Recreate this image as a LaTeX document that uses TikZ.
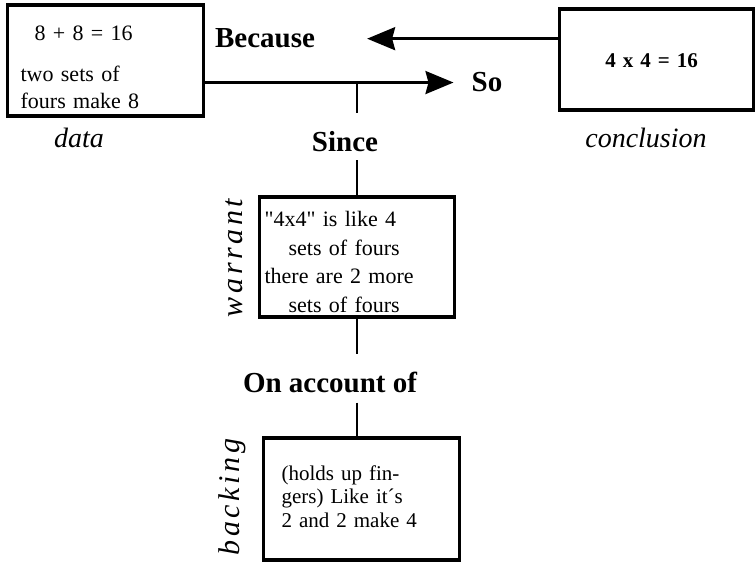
\documentclass[tikz,border=0pt]{standalone}
\usepackage{fontspec}
\setmainfont{Liberation Serif}
\newfontfamily\boxfont{Liberation Serif}
\newfontfamily\spacedfont[LetterSpace=12]{Liberation Serif}
\usetikzlibrary{arrows.meta}

\begin{document}
\begin{tikzpicture}[x=1pt,y=-1pt,
		box/.style={draw,line width=3.2pt,inner sep=0pt,anchor=base west,align=left},
		link/.style={line width=2.6pt},
		arrow/.style={link,-{Stealth[length=28pt,width=23pt,inset=3pt]}},
		word/.style={font=\fontsize{29}{34}\selectfont\bfseries,inner sep=0pt,anchor=base},
		role/.style={font=\fontsize{28}{34}\selectfont\itshape,inner sep=0pt,anchor=base},
		side/.style={font=\spacedfont\fontsize{30}{34}\selectfont\itshape,
			inner sep=0pt,anchor=base,rotate=90}]
	\useasboundingbox (0,0) rectangle (755,564);

	% the four boxes
	\node[box,inner xsep=13pt,text width=170pt,text height=36pt,text depth=75pt,
		font=\boxfont\fontsize{22}{27}\selectfont] (data) at (6,41)
		{\hspace*{14pt}8 + 8 = 16\\[14pt]two sets of\\fours make 8};
	\node[box,align=center,text width=194pt,text height=59pt,text depth=42pt,
		font=\boxfont\fontsize{21}{24}\selectfont\bfseries] (concl) at (558,68)
		{\hspace*{-10pt}4 x 4 = 16};
	\node[box,inner xsep=5pt,text width=185pt,text height=30pt,text depth=90pt,
		font=\boxfont\fontsize{22}{28.5}\selectfont] (warrant) at (258,227)
		{"4x4" is like 4\\\hspace*{24pt}sets of fours\\there are 2 more\\\hspace*{24pt}sets of fours};
	\node[box,inner xsep=18pt,text width=160pt,text height=42pt,text depth=80pt,
		font=\boxfont\fontsize{21}{23.5}\selectfont] (backing) at (262,480)
		{(holds up fin-\\gers) Like it´s\\2 and 2 make 4};

	% link words and roles
	\node[word] (because) at (265,48) {Because};
	\node[word,inner xsep=18pt] (so) at (487,92) {So};
	\node[word] (since) at (345,152) {Since};
	\node[word] (onaccount) at (330,392) {On account of};
	\node[role] (datarole) at (79,148) {data};
	\node[role] (conclrole) at (646,148) {conclusion};
	\node[side] (warrantrole) at (242,258) {warrant};
	\node[side] (backingrole) at (239,497) {backing};

	\coordinate (fork) at (warrant.north |- so.west);
	\draw[arrow] (data.east |- so.west) -- (so.west);
	\draw[arrow] (concl.west |- because.east) -- ([xshift=52pt]because.east);
	\draw[link,shorten >=19pt] (fork) -- (fork |- since.north);
	\draw[link,shorten <=8pt] (fork |- since.south) -- (warrant.north);
	\draw[link,shorten >=17pt] (warrant.south) -- (fork |- onaccount.north);
	\draw[link,shorten <=10pt] (fork |- onaccount.south) -- (fork |- backing.north);
\end{tikzpicture}
\end{document}
